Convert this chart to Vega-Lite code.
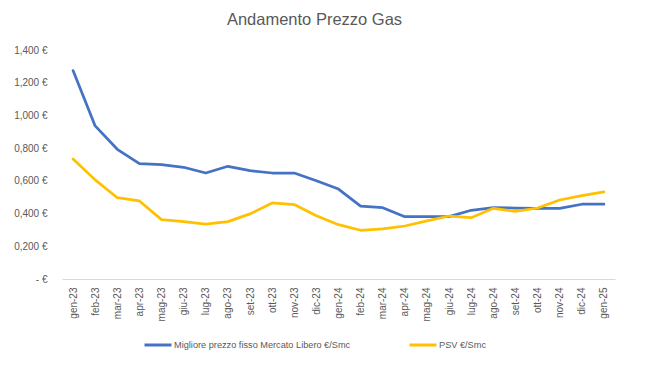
{
  "$schema": "https://vega.github.io/schema/vega-lite/v6.json",
  "width": 553,
  "height": 229,
  "autosize": "none",
  "padding": {"left": 62, "top": 50, "right": 32, "bottom": 106},
  "background": "white",
  "title": {
    "text": "Andamento Prezzo Gas",
    "anchor": "middle",
    "dx": -24,
    "offset": 17,
    "font": "Liberation Sans",
    "fontSize": 16.5,
    "fontWeight": "normal",
    "color": "#595959"
  },
  "data": {
    "values": [
      {"mese": "gen-23", "serie": "Migliore prezzo fisso Mercato Libero €/Smc", "prezzo": 1.274},
      {"mese": "feb-23", "serie": "Migliore prezzo fisso Mercato Libero €/Smc", "prezzo": 0.936},
      {"mese": "mar-23", "serie": "Migliore prezzo fisso Mercato Libero €/Smc", "prezzo": 0.793},
      {"mese": "apr-23", "serie": "Migliore prezzo fisso Mercato Libero €/Smc", "prezzo": 0.705},
      {"mese": "mag-23", "serie": "Migliore prezzo fisso Mercato Libero €/Smc", "prezzo": 0.699},
      {"mese": "giu-23", "serie": "Migliore prezzo fisso Mercato Libero €/Smc", "prezzo": 0.683},
      {"mese": "lug-23", "serie": "Migliore prezzo fisso Mercato Libero €/Smc", "prezzo": 0.648},
      {"mese": "ago-23", "serie": "Migliore prezzo fisso Mercato Libero €/Smc", "prezzo": 0.689},
      {"mese": "set-23", "serie": "Migliore prezzo fisso Mercato Libero €/Smc", "prezzo": 0.662},
      {"mese": "ott-23", "serie": "Migliore prezzo fisso Mercato Libero €/Smc", "prezzo": 0.648},
      {"mese": "nov-23", "serie": "Migliore prezzo fisso Mercato Libero €/Smc", "prezzo": 0.648},
      {"mese": "dic-23", "serie": "Migliore prezzo fisso Mercato Libero €/Smc", "prezzo": 0.601},
      {"mese": "gen-24", "serie": "Migliore prezzo fisso Mercato Libero €/Smc", "prezzo": 0.550},
      {"mese": "feb-24", "serie": "Migliore prezzo fisso Mercato Libero €/Smc", "prezzo": 0.446},
      {"mese": "mar-24", "serie": "Migliore prezzo fisso Mercato Libero €/Smc", "prezzo": 0.436},
      {"mese": "apr-24", "serie": "Migliore prezzo fisso Mercato Libero €/Smc", "prezzo": 0.381},
      {"mese": "mag-24", "serie": "Migliore prezzo fisso Mercato Libero €/Smc", "prezzo": 0.381},
      {"mese": "giu-24", "serie": "Migliore prezzo fisso Mercato Libero €/Smc", "prezzo": 0.381},
      {"mese": "lug-24", "serie": "Migliore prezzo fisso Mercato Libero €/Smc", "prezzo": 0.420},
      {"mese": "ago-24", "serie": "Migliore prezzo fisso Mercato Libero €/Smc", "prezzo": 0.436},
      {"mese": "set-24", "serie": "Migliore prezzo fisso Mercato Libero €/Smc", "prezzo": 0.434},
      {"mese": "ott-24", "serie": "Migliore prezzo fisso Mercato Libero €/Smc", "prezzo": 0.432},
      {"mese": "nov-24", "serie": "Migliore prezzo fisso Mercato Libero €/Smc", "prezzo": 0.432},
      {"mese": "dic-24", "serie": "Migliore prezzo fisso Mercato Libero €/Smc", "prezzo": 0.457},
      {"mese": "gen-25", "serie": "Migliore prezzo fisso Mercato Libero €/Smc", "prezzo": 0.457},
      {"mese": "gen-23", "serie": "PSV €/Smc", "prezzo": 0.734},
      {"mese": "feb-23", "serie": "PSV €/Smc", "prezzo": 0.606},
      {"mese": "mar-23", "serie": "PSV €/Smc", "prezzo": 0.497},
      {"mese": "apr-23", "serie": "PSV €/Smc", "prezzo": 0.477},
      {"mese": "mag-23", "serie": "PSV €/Smc", "prezzo": 0.363},
      {"mese": "giu-23", "serie": "PSV €/Smc", "prezzo": 0.351},
      {"mese": "lug-23", "serie": "PSV €/Smc", "prezzo": 0.336},
      {"mese": "ago-23", "serie": "PSV €/Smc", "prezzo": 0.351},
      {"mese": "set-23", "serie": "PSV €/Smc", "prezzo": 0.398},
      {"mese": "ott-23", "serie": "PSV €/Smc", "prezzo": 0.465},
      {"mese": "nov-23", "serie": "PSV €/Smc", "prezzo": 0.455},
      {"mese": "dic-23", "serie": "PSV €/Smc", "prezzo": 0.387},
      {"mese": "gen-24", "serie": "PSV €/Smc", "prezzo": 0.332},
      {"mese": "feb-24", "serie": "PSV €/Smc", "prezzo": 0.298},
      {"mese": "mar-24", "serie": "PSV €/Smc", "prezzo": 0.306},
      {"mese": "apr-24", "serie": "PSV €/Smc", "prezzo": 0.324},
      {"mese": "mag-24", "serie": "PSV €/Smc", "prezzo": 0.355},
      {"mese": "giu-24", "serie": "PSV €/Smc", "prezzo": 0.385},
      {"mese": "lug-24", "serie": "PSV €/Smc", "prezzo": 0.375},
      {"mese": "ago-24", "serie": "PSV €/Smc", "prezzo": 0.432},
      {"mese": "set-24", "serie": "PSV €/Smc", "prezzo": 0.414},
      {"mese": "ott-24", "serie": "PSV €/Smc", "prezzo": 0.434},
      {"mese": "nov-24", "serie": "PSV €/Smc", "prezzo": 0.483},
      {"mese": "dic-24", "serie": "PSV €/Smc", "prezzo": 0.510},
      {"mese": "gen-25", "serie": "PSV €/Smc", "prezzo": 0.532}
    ]
  },
  "mark": {"type": "line", "strokeWidth": 2.75, "strokeCap": "round", "strokeJoin": "round"},
  "encoding": {
    "x": {
      "field": "mese",
      "type": "ordinal",
      "sort": null,
      "scale": {"type": "point", "padding": 0.5},
      "axis": {
        "title": null,
        "labelAngle": -90,
        "labelAlign": "right",
        "labelBaseline": "middle",
        "labelPadding": 8,
        "ticks": false,
        "domainColor": "#d9d9d9",
        "domainWidth": 1,
        "labelFont": "Liberation Sans",
        "labelFontSize": 10,
        "labelColor": "#595959",
        "grid": false
      }
    },
    "y": {
      "field": "prezzo",
      "type": "quantitative",
      "scale": {"domain": [0, 1.4], "nice": false, "zero": true},
      "axis": {
        "title": null,
        "values": [0, 0.2, 0.4, 0.6, 0.8, 1.0, 1.2, 1.4],
        "labelExpr": "datum.value == 0 ? '-     €' : replace(format(datum.value, '.3f'), '.', ',') + ' €'",
        "domain": false,
        "ticks": false,
        "grid": false,
        "labelPadding": 15,
        "labelFont": "Liberation Sans",
        "labelFontSize": 10,
        "labelColor": "#595959"
      }
    },
    "color": {
      "field": "serie",
      "type": "nominal",
      "sort": null,
      "scale": {
        "domain": ["Migliore prezzo fisso Mercato Libero €/Smc", "PSV €/Smc"],
        "range": ["#4472C4", "#FFC000"]
      },
      "legend": {
        "title": null,
        "orient": "none",
        "direction": "horizontal",
        "legendX": 81,
        "legendY": 280,
        "symbolType": "stroke",
        "symbolSize": 729,
        "symbolStrokeWidth": 3,
        "labelOffset": 1,
        "labelLimit": 400,
        "columnPadding": 52,
        "labelFont": "Liberation Sans",
        "labelFontSize": 9.2,
        "labelColor": "#595959"
      }
    }
  },
  "config": {
    "view": {"stroke": null}
  }
}
